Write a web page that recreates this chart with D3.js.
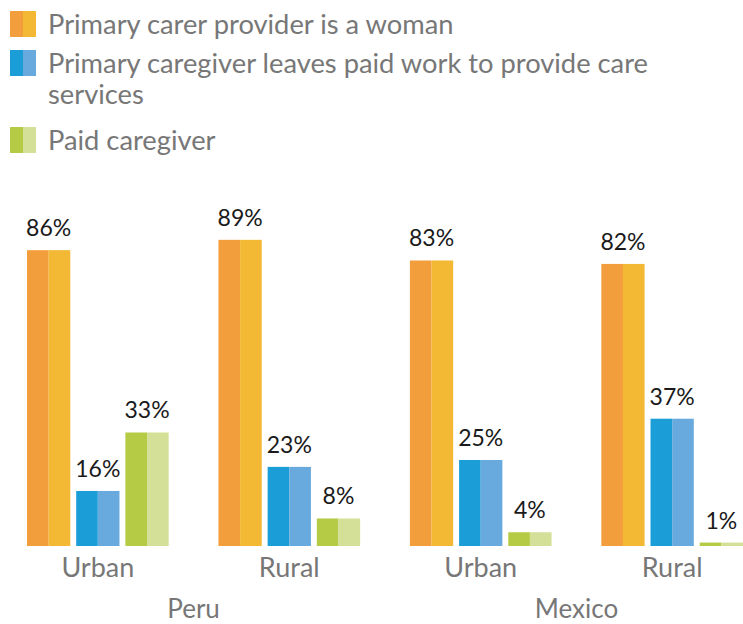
<!DOCTYPE html>
<html>
<head>
<meta charset="utf-8">
<script src="https://cdn.jsdelivr.net/npm/d3@7"></script>
<style>
  html, body { margin: 0; padding: 0; background: #fff; }
  svg { display: block; font-family: Lato, "Noto Sans", sans-serif; }
</style>
</head>
<body>
<svg id="chart" width="743" height="624"></svg>
<script>
// Groups along the x axis
const countries = ["Peru", "Mexico"];
const areas = ["Urban", "Rural"];
const groups = ["Peru Urban", "Peru Rural", "Mexico Urban", "Mexico Rural"];

// Series (percent of households)
const series = [
  "Primary carer provider is a woman",
  "Primary caregiver leaves paid work to provide care services",
  "Paid caregiver"
];
const womanCarer    = [86, 89, 83, 82];
const leavesWork    = [16, 23, 25, 37];
const paidCaregiver = [33, 8, 4, 1];

// Legend lines (wrapped)
const legendLines = [
  ["Primary carer provider is a woman"],
  ["Primary caregiver leaves paid work to provide care", "services"],
  ["Paid caregiver"]
];

// Each bar is drawn in two tones: left half darker, right half lighter
const colors = [
  ["#F39E3C", "#F3B834"],
  ["#1B9ED8", "#68AADD"],
  ["#B5CB45", "#D4E098"]
];

const values = [womanCarer, leavesWork, paidCaregiver];

const svg = d3.select("#chart");

const x0 = d3.scaleBand().domain(groups).range([27, 743]).paddingInner(0.26).paddingOuter(0);
const x1 = d3.scaleBand().domain(d3.range(series.length)).range([0, x0.bandwidth()]).paddingInner(0.12);
const y = d3.scaleLinear().domain([0, 100]).range([546, 202]);

// Bars
groups.forEach((g, gi) => {
  const gEl = svg.append("g").attr("transform", `translate(${x0(g)},0)`);
  values.forEach((vals, si) => {
    const v = vals[gi];
    const bx = x1(si), bw = x1.bandwidth();
    gEl.append("rect")
      .attr("x", bx).attr("y", y(v))
      .attr("width", bw / 2).attr("height", y(0) - y(v))
      .attr("fill", colors[si][0]);
    gEl.append("rect")
      .attr("x", bx + bw / 2).attr("y", y(v))
      .attr("width", bw / 2).attr("height", y(0) - y(v))
      .attr("fill", colors[si][1]);
    gEl.append("text")
      .attr("x", bx + bw / 2).attr("y", y(v) - 14)
      .attr("text-anchor", "middle")
      .attr("font-size", 23)
      .attr("fill", "#1a1a1a")
      .text(v + "%");
  });
  // Area label
  svg.append("text")
    .attr("x", x0(g) + x0.bandwidth() / 2).attr("y", 577)
    .attr("text-anchor", "middle")
    .attr("font-size", 27)
    .attr("fill", "#777")
    .text(areas[gi % 2]);
});

// Country labels, centred under their pair of groups
countries.forEach((c, ci) => {
  const a = groups[ci * 2], b = groups[ci * 2 + 1];
  const cx = (x0(a) + x0(b) + x0.bandwidth()) / 2;
  svg.append("text")
    .attr("x", cx).attr("y", 618)
    .attr("text-anchor", "middle")
    .attr("font-size", 26)
    .attr("fill", "#777")
    .text(c);
});

// Legend
const legendTop = [11, 50, 127];
legendLines.forEach((lines, i) => {
  const ty = legendTop[i];
  svg.append("rect").attr("x", 10).attr("y", ty).attr("width", 13).attr("height", 26).attr("fill", colors[i][0]);
  svg.append("rect").attr("x", 23).attr("y", ty).attr("width", 13).attr("height", 26).attr("fill", colors[i][1]);
  lines.forEach((ln, li) => {
    svg.append("text")
      .attr("x", 48).attr("y", ty + 23 + li * 31)
      .attr("font-size", 27.3)
      .attr("fill", "#777")
      .text(ln);
  });
});
</script>
</body>
</html>
